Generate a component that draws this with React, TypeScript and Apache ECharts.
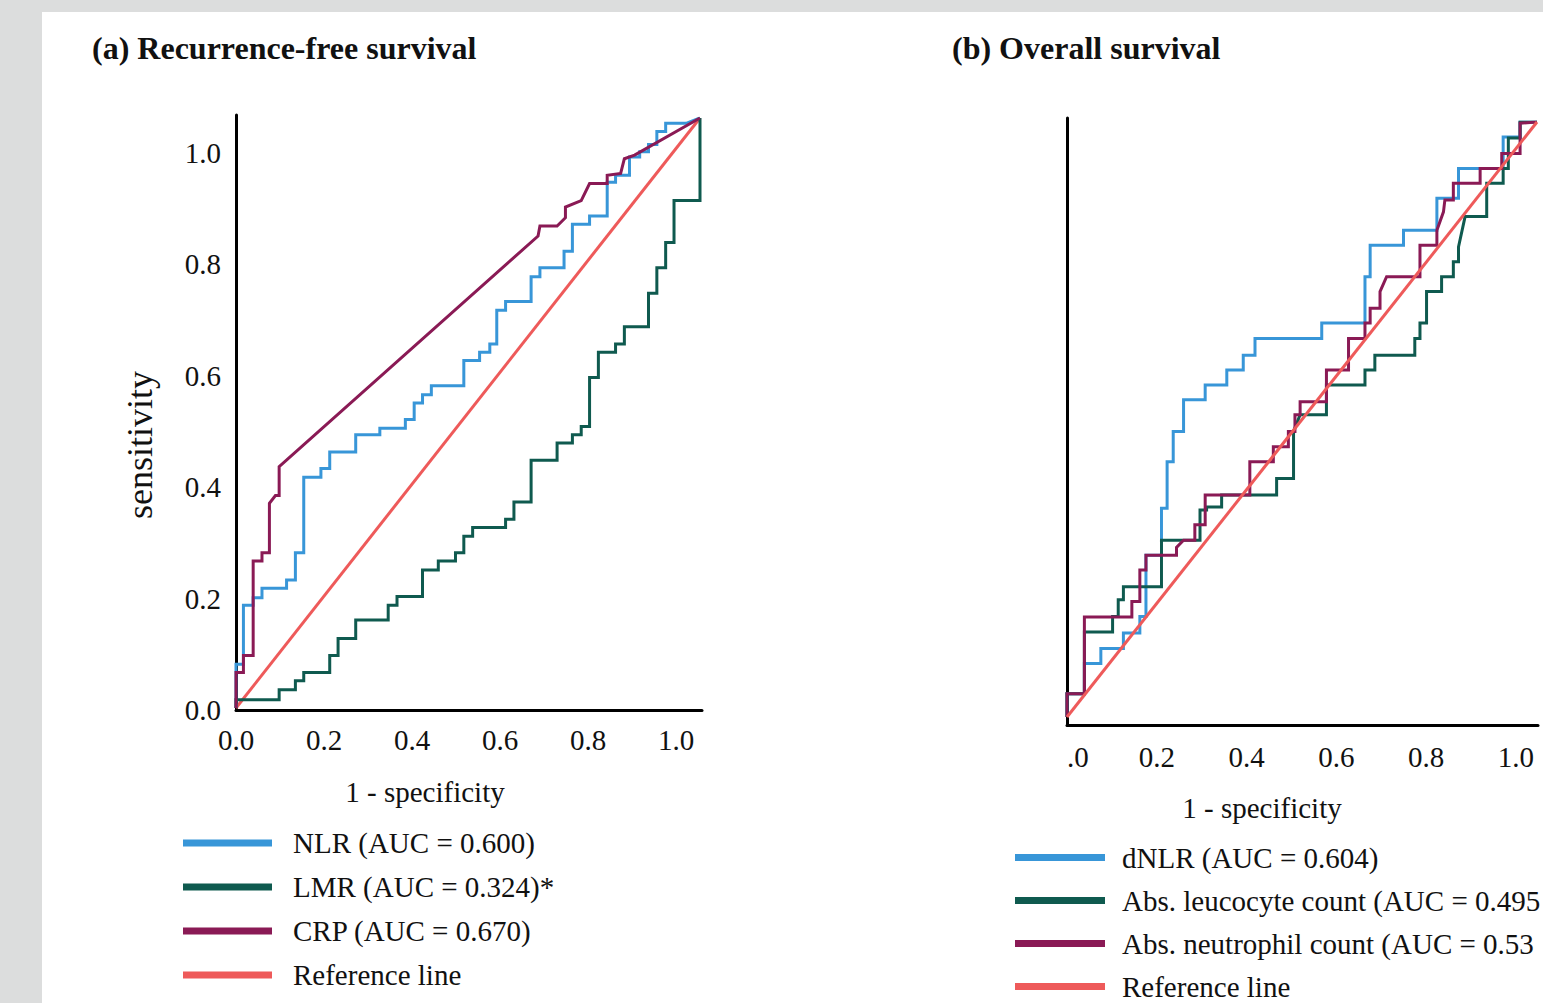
import React, { useEffect, useRef } from 'react';
import * as echarts from 'echarts';

const FONT = '"Liberation Serif", "Times New Roman", serif';

// Tick labels
const xTickLabelsA = ['0.0', '0.2', '0.4', '0.6', '0.8', '1.0'];
const yTickLabelsA = ['0.0', '0.2', '0.4', '0.6', '0.8', '1.0'];
const xTickLabelsB = ['.0', '0.2', '0.4', '0.6', '0.8', '1.0'];

// Titles / names
const titleA = '(a) Recurrence-free survival';
const titleB = '(b) Overall survival';
const yNameA = 'sensitivity';
const xName = '1 - specificity';

// Series names
const namesA = ['NLR (AUC = 0.600)', 'LMR (AUC = 0.324)*', 'CRP (AUC = 0.670)', 'Reference line'];
const namesB = ['dNLR (AUC = 0.604)', 'Abs. leucocyte count (AUC = 0.495', 'Abs. neutrophil count (AUC = 0.53', 'Reference line'];

// Colours
const colNLR = '#3896d8';
const colLMR = '#0f5a4f';
const colCRP = '#8a1a55';
const colRef = '#ee5a5a';

// Panel (a) ROC curves: [1 - specificity, sensitivity]
const nlrA = [
  [0, 0], [0, 0.074], [0.016, 0.074], [0.016, 0.174], [0.037, 0.174], [0.037, 0.187], [0.056, 0.187], [0.056, 0.203],
  [0.109, 0.203], [0.109, 0.217], [0.128, 0.217], [0.128, 0.263], [0.146, 0.263], [0.146, 0.391], [0.183, 0.391],
  [0.183, 0.406], [0.202, 0.406], [0.202, 0.434], [0.258, 0.434], [0.258, 0.463], [0.31, 0.463], [0.31, 0.474],
  [0.365, 0.474], [0.365, 0.489], [0.384, 0.489], [0.384, 0.517], [0.402, 0.517], [0.402, 0.531], [0.421, 0.531],
  [0.421, 0.546], [0.491, 0.546], [0.491, 0.589], [0.525, 0.589], [0.525, 0.603], [0.547, 0.603], [0.547, 0.617],
  [0.562, 0.617], [0.562, 0.674], [0.581, 0.674], [0.581, 0.689], [0.636, 0.689], [0.636, 0.731], [0.655, 0.731],
  [0.655, 0.746], [0.707, 0.746], [0.707, 0.774], [0.725, 0.774], [0.725, 0.82], [0.762, 0.82], [0.762, 0.834],
  [0.8, 0.834], [0.8, 0.891], [0.818, 0.891], [0.818, 0.903], [0.848, 0.903], [0.848, 0.934], [0.87, 0.934],
  [0.87, 0.943], [0.889, 0.943], [0.889, 0.955], [0.907, 0.955], [0.907, 0.977], [0.926, 0.977], [0.926, 0.991],
  [0.97, 0.991], [1, 1],
];
const lmrA = [
  [0, 0], [0, 0.014], [0.093, 0.014], [0.093, 0.031], [0.128, 0.031], [0.128, 0.046], [0.146, 0.046], [0.146, 0.06],
  [0.202, 0.06], [0.202, 0.089], [0.22, 0.089], [0.22, 0.118], [0.258, 0.118], [0.258, 0.149], [0.328, 0.149],
  [0.328, 0.174], [0.347, 0.174], [0.347, 0.189], [0.402, 0.189], [0.402, 0.234], [0.436, 0.234], [0.436, 0.249],
  [0.473, 0.249], [0.473, 0.263], [0.491, 0.263], [0.491, 0.291], [0.51, 0.291], [0.51, 0.306], [0.581, 0.306],
  [0.581, 0.32], [0.599, 0.32], [0.599, 0.349], [0.636, 0.349], [0.636, 0.42], [0.692, 0.42], [0.692, 0.449],
  [0.725, 0.449], [0.725, 0.463], [0.744, 0.463], [0.744, 0.477], [0.762, 0.477], [0.762, 0.56], [0.781, 0.56],
  [0.781, 0.603], [0.818, 0.603], [0.818, 0.617], [0.837, 0.617], [0.837, 0.646], [0.889, 0.646], [0.889, 0.703],
  [0.907, 0.703], [0.907, 0.746], [0.926, 0.746], [0.926, 0.789], [0.944, 0.789], [0.944, 0.86], [1, 0.86], [1, 1],
];
const crpA = [
  [0, 0], [0, 0.06], [0.016, 0.06], [0.016, 0.089], [0.037, 0.089], [0.037, 0.249], [0.056, 0.249], [0.056, 0.263],
  [0.072, 0.263], [0.072, 0.347], [0.085, 0.36], [0.093, 0.36], [0.093, 0.409], [0.651, 0.8], [0.655, 0.817],
  [0.692, 0.817], [0.71, 0.831], [0.71, 0.849], [0.744, 0.86], [0.762, 0.889], [0.8, 0.889], [0.8, 0.903],
  [0.829, 0.906], [0.837, 0.931], [0.859, 0.937], [1, 1],
];
const refLine = [[0, 0], [1, 1]];

// Panel (b) ROC curves
const dnlrB = [
  [0, 0], [0, 0.039], [0.037, 0.039], [0.037, 0.09], [0.072, 0.09], [0.072, 0.115], [0.12, 0.115], [0.12, 0.141],
  [0.155, 0.141], [0.155, 0.169], [0.168, 0.169], [0.168, 0.272], [0.201, 0.272], [0.201, 0.351], [0.213, 0.351],
  [0.213, 0.429], [0.226, 0.429], [0.226, 0.48], [0.248, 0.48], [0.248, 0.533], [0.294, 0.533], [0.294, 0.558],
  [0.34, 0.558], [0.34, 0.583], [0.375, 0.583], [0.375, 0.608], [0.4, 0.608], [0.4, 0.636], [0.542, 0.636],
  [0.542, 0.662], [0.634, 0.662], [0.634, 0.74], [0.645, 0.74], [0.645, 0.793], [0.716, 0.793], [0.716, 0.818],
  [0.787, 0.818], [0.787, 0.872], [0.833, 0.872], [0.833, 0.922], [0.928, 0.922], [0.928, 0.975], [0.964, 0.975],
  [0.964, 1], [1, 1],
];
const leucoB = [
  [0, 0], [0, 0.039], [0.037, 0.039], [0.037, 0.143], [0.097, 0.143], [0.097, 0.169], [0.109, 0.169], [0.109, 0.197],
  [0.12, 0.197], [0.12, 0.219], [0.201, 0.219], [0.201, 0.297], [0.283, 0.297], [0.283, 0.348], [0.297, 0.348],
  [0.297, 0.353], [0.329, 0.353], [0.329, 0.373], [0.446, 0.373], [0.446, 0.401], [0.482, 0.401], [0.482, 0.48],
  [0.496, 0.508], [0.552, 0.508], [0.552, 0.558], [0.634, 0.558], [0.634, 0.583], [0.655, 0.583], [0.655, 0.608],
  [0.74, 0.608], [0.74, 0.636], [0.751, 0.636], [0.751, 0.662], [0.765, 0.662], [0.765, 0.715], [0.797, 0.715],
  [0.797, 0.74], [0.822, 0.74], [0.822, 0.765], [0.833, 0.765], [0.833, 0.79], [0.847, 0.841], [0.893, 0.841],
  [0.893, 0.897], [0.928, 0.897], [0.928, 0.922], [0.939, 0.922], [0.939, 0.973], [0.964, 0.973], [0.964, 1], [1, 1],
];
const neutroB = [
  [0, 0], [0, 0.039], [0.037, 0.039], [0.037, 0.168], [0.138, 0.168], [0.138, 0.194], [0.155, 0.194], [0.155, 0.247],
  [0.168, 0.247], [0.168, 0.272], [0.233, 0.272], [0.233, 0.285], [0.248, 0.297], [0.272, 0.297], [0.272, 0.323],
  [0.294, 0.323], [0.294, 0.373], [0.389, 0.373], [0.389, 0.429], [0.439, 0.429], [0.439, 0.454], [0.471, 0.454],
  [0.471, 0.48], [0.485, 0.48], [0.485, 0.508], [0.496, 0.508], [0.496, 0.53], [0.552, 0.53], [0.552, 0.583],
  [0.599, 0.583], [0.599, 0.636], [0.634, 0.636], [0.634, 0.662], [0.645, 0.662], [0.645, 0.687], [0.666, 0.687],
  [0.666, 0.715], [0.68, 0.74], [0.751, 0.74], [0.751, 0.793], [0.787, 0.793], [0.787, 0.818], [0.801, 0.849],
  [0.804, 0.869], [0.822, 0.869], [0.822, 0.897], [0.879, 0.897], [0.879, 0.922], [0.925, 0.922], [0.925, 0.947],
  [0.964, 0.947], [0.964, 0.998], [1, 1],
];

const tickFormatter = (labels: string[]) => (v: number) => {
  if (v > 1.0001) return '';
  const i = Math.round(v / 0.2);
  return labels[i] ?? '';
};

const hiddenAxis = (gridIndex: number) => ({
  type: 'value', gridIndex, min: 0, max: 1, show: false,
  axisLine: { show: false }, axisTick: { show: false }, axisLabel: { show: false }, splitLine: { show: false },
});

const lineSeries = (name: string, data: number[][], color: string, axisIndex: number, z = 3) => ({
  type: 'line', name, data, xAxisIndex: axisIndex, yAxisIndex: axisIndex,
  showSymbol: false, symbol: 'none', color, z,
  itemStyle: { color },
  lineStyle: { color, width: 3, join: 'miter' },
  emphasis: { disabled: true },
});

export default function App() {
  const ref = useRef<HTMLDivElement>(null);
  useEffect(() => {
    if (!ref.current) return;
    const chart = echarts.init(ref.current, null, { renderer: 'svg' });
    const labelStyle = { fontFamily: FONT, fontSize: 29, color: '#111' };
    const option: any = {
      animation: false,
      backgroundColor: '#dcdddd',
      grid: [
        { left: 236, top: 115, width: 466, height: 595 },
        { left: 236, top: 118, width: 464, height: 590 },
        { left: 1067, top: 118, width: 471, height: 607 },
        { left: 1067, top: 122, width: 470, height: 595 },
      ],
      xAxis: [
        {
          type: 'value', gridIndex: 0, min: 0, max: 1.059, interval: 0.2,
          axisLine: { show: true, onZero: false, lineStyle: { color: '#000', width: 3 } },
          axisTick: { show: false }, splitLine: { show: false },
          axisLabel: { ...labelStyle, margin: 15, formatter: tickFormatter(xTickLabelsA) },
        },
        hiddenAxis(1),
        {
          type: 'value', gridIndex: 2, min: 0, max: 1.049, interval: 0.2,
          axisLine: { show: true, onZero: false, lineStyle: { color: '#000', width: 3 } },
          axisTick: { show: false }, splitLine: { show: false },
          axisLabel: { ...labelStyle, margin: 17, alignMinLabel: 'left', formatter: tickFormatter(xTickLabelsB) },
        },
        hiddenAxis(3),
      ],
      yAxis: [
        {
          type: 'value', gridIndex: 0, min: 0, max: 1.068, interval: 0.2,
          axisLine: { show: true, onZero: false, lineStyle: { color: '#000', width: 3 } },
          axisTick: { show: false }, splitLine: { show: false },
          axisLabel: { ...labelStyle, margin: 15, formatter: tickFormatter(yTickLabelsA) },
        },
        hiddenAxis(1),
        {
          type: 'value', gridIndex: 2, min: 0, max: 1, interval: 0.2,
          axisLine: { show: true, onZero: false, lineStyle: { color: '#000', width: 3 } },
          axisTick: { show: false }, splitLine: { show: false }, axisLabel: { show: false },
        },
        hiddenAxis(3),
      ],
      legend: [
        {
          left: 183, top: 827, width: 500, height: 240, orient: 'vertical', padding: 0, data: namesA, icon: 'rect',
          itemWidth: 89, itemHeight: 7, itemGap: 12, selectedMode: false,
          textStyle: { fontFamily: FONT, fontSize: 29, color: '#111', lineHeight: 32, padding: [0, 0, 0, 16] },
        },
        {
          left: 1015, top: 843, width: 700, height: 240, orient: 'vertical', padding: 0, data: namesB, icon: 'rect',
          itemWidth: 90, itemHeight: 7, itemGap: 14, selectedMode: false,
          textStyle: { fontFamily: FONT, fontSize: 29, color: '#111', lineHeight: 29, padding: [0, 0, 0, 12] },
        },
      ],
      graphic: [
        { type: 'rect', z: -10, silent: true, shape: { x: 42, y: 12, width: 1501, height: 991 }, style: { fill: '#ffffff' } },
        { type: 'text', x: 92, y: 48, silent: true, style: { text: titleA, fontFamily: FONT, fontSize: 32, fontWeight: 'bold', fill: '#111', align: 'left', verticalAlign: 'middle' } },
        { type: 'text', x: 952, y: 48, silent: true, style: { text: titleB, fontFamily: FONT, fontSize: 32, fontWeight: 'bold', fill: '#111', align: 'left', verticalAlign: 'middle' } },
        { type: 'text', x: 140, y: 445, rotation: Math.PI / 2, silent: true, style: { text: yNameA, fontFamily: FONT, fontSize: 36, fill: '#111', align: 'center', verticalAlign: 'middle' } },
        { type: 'text', x: 425, y: 792, silent: true, style: { text: xName, fontFamily: FONT, fontSize: 29, fill: '#111', align: 'center', verticalAlign: 'middle' } },
        { type: 'text', x: 1262, y: 808, silent: true, style: { text: xName, fontFamily: FONT, fontSize: 29, fill: '#111', align: 'center', verticalAlign: 'middle' } },
      ],
      series: [
        lineSeries(namesA[0], nlrA, colNLR, 1, 3),
        lineSeries(namesA[1], lmrA, colLMR, 1, 3),
        lineSeries(namesA[2], crpA, colCRP, 1, 4),
        lineSeries(namesA[3], refLine, colRef, 1, 2),
        lineSeries(namesB[0], dnlrB, colNLR, 3, 3),
        lineSeries(namesB[1], leucoB, colLMR, 3, 3),
        lineSeries(namesB[2], neutroB, colCRP, 3, 4),
        lineSeries(namesB[3], refLine, colRef, 3, 5),
      ],
    };
    chart.setOption(option);
    return () => chart.dispose();
  }, []);
  return <div ref={ref} style={{ position: 'absolute', left: 0, top: 0, width: 1543, height: 1003 }} />;
}
